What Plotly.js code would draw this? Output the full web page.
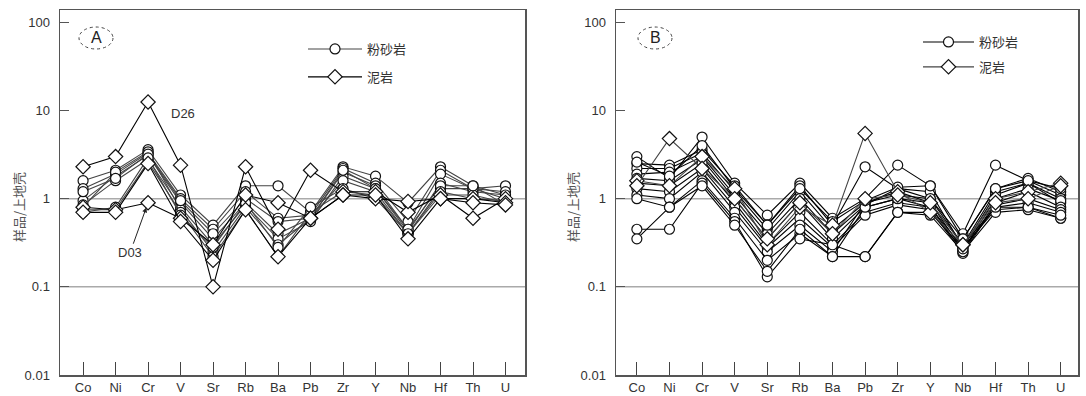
<!DOCTYPE html>
<html>
<head>
<meta charset="utf-8">
<script src="https://cdn.plot.ly/plotly-3.0.1.min.js"></script>
<style>html,body{margin:0;padding:0;background:#fff;}#chart{width:1086px;height:396px;}</style>
</head>
<body>
<div id="chart"></div>
<script>
// ---------- data ----------
const categories = ["Co","Ni","Cr","V","Sr","Rb","Ba","Pb","Zr","Y","Nb","Hf","Th","U"];
const yTickVals = [0.01, 0.1, 1, 10, 100];
const yTickText = ["0.01", "0.1", "1", "10", "100"];
const refLines = [1, 0.1];
const yTitle = "样品/上地壳";
const siltName = "粉砂岩";
const mudName = "泥岩";

// Panel A – siltstone (circles)
const A_silt1 = [1.6, 2.1, 3.6, 1.1, 0.5, 1.4, 1.4, 0.7, 2.3, 1.8, 0.9, 2.3, 1.4, 1.1];
const A_silt2 = [1.3, 1.9, 3.3, 1.0, 0.45, 1.2, 0.6, 0.65, 2.2, 1.5, 0.55, 2.1, 1.3, 1.4];
const A_silt3 = [0.95, 1.8, 3.1, 0.9, 0.35, 0.9, 0.4, 0.6, 2.0, 1.4, 0.45, 1.9, 1.3, 1.2];
const A_silt4 = [0.85, 1.6, 2.8, 0.8, 0.3, 0.85, 0.35, 0.55, 1.8, 1.3, 0.42, 1.5, 1.2, 1.1];
const A_silt5 = [0.8, 2.0, 3.4, 0.75, 0.25, 0.8, 0.3, 0.6, 1.6, 1.2, 0.4, 1.3, 1.3, 1.0];
const A_silt6 = [0.75, 0.75, 2.6, 0.7, 0.22, 0.75, 0.22, 0.7, 1.2, 1.1, 0.4, 1.1, 1.1, 0.9];
const A_silt7 = [1.2, 1.7, 3.2, 0.95, 0.4, 1.0, 0.55, 0.6, 2.1, 1.3, 0.45, 1.4, 1.4, 0.85];
const A_silt8 = [0.7, 0.8, 2.9, 0.65, 0.28, 0.9, 0.28, 0.8, 1.3, 1.0, 0.4, 1.2, 1.0, 0.95];
// Panel A – mudstone (diamonds)
const A_D26 = [2.3, 3.0, 12.5, 2.4, 0.1, 2.3, 0.45, 2.1, 1.2, 1.2, 0.7, 1.1, 0.6, 1.0];
const A_D03 = [0.8, 0.75, 0.9, 0.6, 0.3, 1.1, 0.9, 0.6, 1.1, 1.0, 0.93, 1.0, 1.0, 0.9];
const A_mud3 = [0.7, 0.7, 2.5, 0.55, 0.2, 0.75, 0.22, 0.6, 1.1, 1.1, 0.35, 1.0, 0.9, 0.85];

// Panel B – siltstone (circles)
const B_silt1 = [3.0, 1.7, 5.0, 1.5, 0.65, 1.5, 0.6, 1.0, 2.4, 1.4, 0.4, 2.4, 1.6, 1.1];
const B_silt2 = [2.5, 2.4, 3.6, 1.4, 0.5, 1.4, 0.5, 2.3, 1.3, 1.0, 0.35, 1.3, 1.7, 1.2];
const B_silt3 = [2.2, 2.2, 3.3, 1.2, 0.45, 1.2, 0.45, 0.9, 1.2, 0.9, 0.3, 1.2, 1.5, 1.0];
const B_silt4 = [1.9, 2.0, 3.0, 1.1, 0.4, 1.0, 0.4, 0.85, 1.3, 1.2, 0.28, 1.1, 1.5, 0.9];
const B_silt5 = [1.7, 1.6, 2.8, 1.0, 0.35, 0.9, 0.35, 0.8, 1.0, 0.9, 0.26, 1.0, 1.3, 0.95];
const B_silt6 = [1.5, 1.4, 2.5, 0.9, 0.3, 0.7, 0.3, 0.7, 0.9, 0.8, 0.25, 0.9, 1.2, 0.8];
const B_silt7 = [1.3, 1.2, 2.2, 0.8, 0.28, 0.6, 0.28, 0.65, 0.85, 0.75, 0.24, 0.85, 1.0, 0.75];
const B_silt8 = [1.1, 1.0, 2.0, 0.7, 0.25, 0.5, 0.25, 0.9, 1.1, 1.0, 0.3, 0.8, 0.9, 0.7];
const B_silt9 = [1.0, 0.8, 1.6, 0.6, 0.2, 0.4, 0.22, 0.8, 1.0, 0.8, 0.28, 0.75, 0.8, 0.6];
const B_silt10 = [0.45, 0.45, 1.5, 0.55, 0.13, 0.35, 0.3, 0.22, 0.7, 0.65, 0.25, 0.7, 0.75, 0.6];
const B_silt11 = [0.35, 0.8, 1.4, 0.5, 0.15, 0.45, 0.22, 0.22, 0.7, 0.7, 0.27, 0.8, 0.8, 0.65];
const B_silt12 = [2.6, 1.8, 4.0, 1.3, 0.5, 1.3, 0.55, 0.95, 1.35, 1.4, 0.35, 1.3, 1.6, 1.3];
// Panel B – mudstone (diamonds)
const B_mud1 = [1.6, 1.4, 3.0, 1.3, 0.3, 0.8, 0.5, 5.5, 1.2, 0.7, 0.3, 1.0, 1.2, 1.5];
const B_mud2 = [1.4, 4.8, 2.2, 1.0, 0.35, 0.9, 0.4, 1.0, 1.1, 0.9, 0.3, 0.9, 1.0, 1.4];

// ---------- build ----------
const xIdx = categories.map((c, i) => i);
const A_silt = [A_silt1, A_silt2, A_silt3, A_silt4, A_silt5, A_silt6, A_silt7, A_silt8];
const A_mud = [A_D26, A_D03, A_mud3];
const B_silt = [B_silt1, B_silt2, B_silt3, B_silt4, B_silt5, B_silt6, B_silt7, B_silt8, B_silt9, B_silt10, B_silt11, B_silt12];
const B_mud = [B_mud1, B_mud2];

function series(vals, xa, ya, sym, lineColor, name, legendId, show) {
  return {
    type: 'scatter', mode: 'lines+markers', x: xIdx, y: vals, xaxis: xa, yaxis: ya,
    name: name, legend: legendId, showlegend: show, legendgroup: name + legendId,
    line: {color: lineColor, width: 1.1},
    marker: {symbol: sym, size: sym === 'diamond' ? 11 : 10, color: '#fff', line: {color: '#111', width: 1.2}},
    hoverinfo: 'skip'
  };
}
function ref(v, xa, ya) {
  return {type: 'scatter', mode: 'lines', x: [-1, 14], y: [v, v], xaxis: xa, yaxis: ya,
    line: {color: '#aaa', width: 1.5}, showlegend: false, hoverinfo: 'skip'};
}

const traces = [];
refLines.forEach(v => { traces.push(ref(v, 'x', 'y')); traces.push(ref(v, 'x2', 'y2')); });
A_silt.forEach((s, i) => traces.push(series(s, 'x', 'y', 'circle', '#444', siltName, 'legend', i === 0)));
A_mud.forEach((s, i) => traces.push(series(s, 'x', 'y', 'diamond', '#000', mudName, 'legend', i === 0)));
B_silt.forEach((s, i) => traces.push(series(s, 'x2', 'y2', 'circle', '#000', siltName, 'legend2', i === 0)));
B_mud.forEach((s, i) => traces.push(series(s, 'x2', 'y2', 'diamond', '#444', mudName, 'legend2', i === 0)));

const tickFont = {family: 'Liberation Sans, Arial, sans-serif', size: 13, color: '#333'};
function xax(domain, range) {
  return {domain: domain, range: range, tickvals: xIdx, ticktext: categories, ticks: 'inside', ticklen: 13,
    tickcolor: '#444', showgrid: false, zeroline: false, showline: true, mirror: true, linecolor: '#555',
    linewidth: 1.5, tickfont: tickFont, fixedrange: true};
}
function yax(domain, anchor) {
  return {domain: domain, anchor: anchor, type: 'log', range: [-2, 2.14], tickvals: yTickVals, ticktext: yTickText,
    ticks: 'inside', ticklen: 9, tickcolor: '#555', showgrid: false, zeroline: false, showline: true, mirror: true,
    linecolor: '#555', linewidth: 1.5, tickfont: tickFont, ticklabelstandoff: 6, fixedrange: true};
}

const W = 1086, H = 396;
const px = v => v / W, py = v => 1 - v / H;
const yDom = [py(375), py(10)];

const cjk = 'Noto Sans CJK SC, sans-serif';
const layout = {
  width: W, height: H, margin: {l: 0, r: 0, t: 0, b: 0},
  paper_bgcolor: '#fff', plot_bgcolor: '#fff', showlegend: true,
  xaxis: Object.assign(xax([px(60), px(525)], [-0.71, 13.6]), {anchor: 'y'}),
  yaxis: yax(yDom, 'x'),
  xaxis2: Object.assign(xax([px(616), px(1078)], [-0.64, 13.53]), {anchor: 'y2'}),
  yaxis2: yax(yDom, 'x2'),
  legend: {x: px(303), y: py(34), xanchor: 'left', yanchor: 'top', bgcolor: 'rgba(0,0,0,0)', itemwidth: 54,
    font: {family: cjk, size: 13, color: '#333'}, tracegroupgap: 8, traceorder: 'grouped'},
  legend2: {x: px(918), y: py(27), xanchor: 'left', yanchor: 'top', bgcolor: 'rgba(0,0,0,0)', itemwidth: 51,
    font: {family: cjk, size: 13, color: '#333'}, tracegroupgap: 5, traceorder: 'grouped'},
  shapes: [
    {type: 'circle', xref: 'paper', yref: 'paper', x0: px(79), x1: px(113), y0: py(49), y1: py(27),
      line: {color: '#444', width: 1, dash: 'dot'}},
    {type: 'circle', xref: 'paper', yref: 'paper', x0: px(638), x1: px(672), y0: py(49), y1: py(27),
      line: {color: '#444', width: 1, dash: 'dot'}}
  ],
  annotations: [
    {xref: 'paper', yref: 'paper', x: px(96), y: py(38), xanchor: 'center', yanchor: 'middle', text: 'A', showarrow: false,
      font: {family: 'Liberation Sans, Arial', size: 16, color: '#222'}},
    {xref: 'paper', yref: 'paper', x: px(655), y: py(38), xanchor: 'center', yanchor: 'middle', text: 'B', showarrow: false,
      font: {family: 'Liberation Sans, Arial', size: 16, color: '#222'}},
    {xref: 'paper', yref: 'paper', x: px(18), y: py(207), xanchor: 'center', yanchor: 'middle', text: yTitle, textangle: -90, showarrow: false,
      font: {family: cjk, size: 13, color: '#555'}},
    {xref: 'paper', yref: 'paper', x: px(572), y: py(207), xanchor: 'center', yanchor: 'middle', text: yTitle, textangle: -90, showarrow: false,
      font: {family: cjk, size: 13, color: '#555'}},
    {xref: 'x', yref: 'y', x: 2, y: Math.log10(A_D26[2]), text: 'D26', showarrow: true, arrowcolor: 'rgba(0,0,0,0)',
      ax: 35, ay: 12, font: {family: 'Liberation Sans, Arial', size: 13, color: '#333'}},
    {xref: 'x', yref: 'y', x: 2, y: Math.log10(A_D03[2]), text: 'D03', showarrow: true, arrowhead: 2,
      arrowsize: 1, arrowwidth: 1, arrowcolor: '#222', standoff: 5, ax: -18, ay: 50,
      font: {family: 'Liberation Sans, Arial', size: 13, color: '#333'}}
  ]
};

Plotly.newPlot('chart', traces, layout, {staticPlot: true, displayModeBar: false});
</script>
</body>
</html>
